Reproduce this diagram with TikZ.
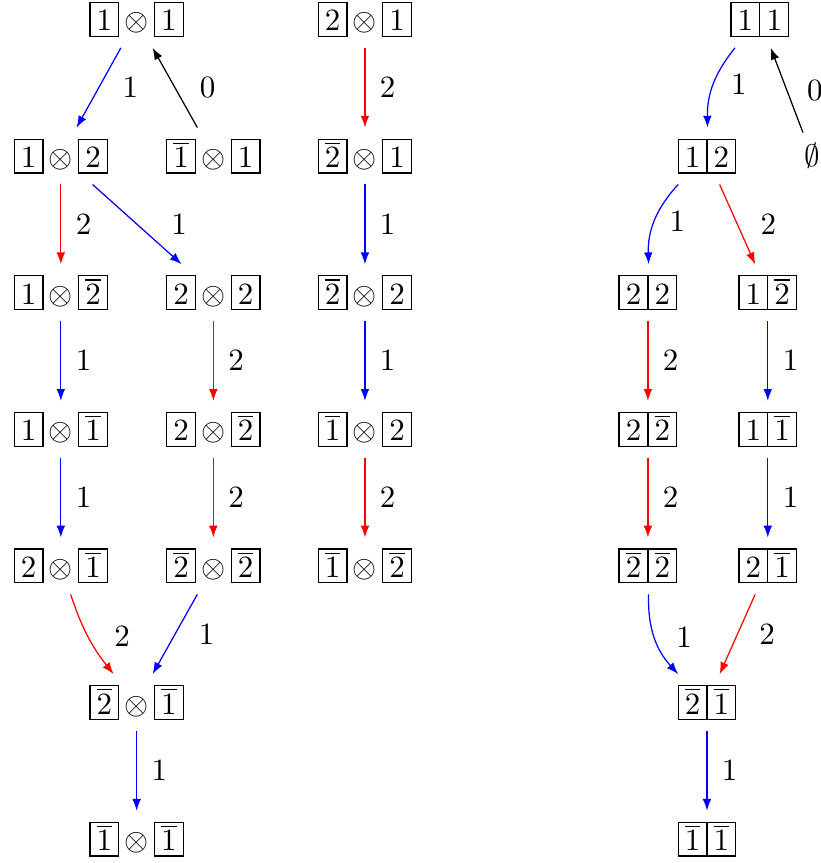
\documentclass[tikz,border=0pt]{standalone}
\usepackage{amsmath,amssymb}
\usetikzlibrary{arrows.meta, positioning}

% one framed cell of a tableau
\newcommand{\cb}[1]{{\setlength{\fboxsep}{0pt}\fbox{\makebox[8.9pt]{\rule[-1.5pt]{0pt}{10.5pt}$#1$}}}}
% tensor product of two cells, and a one-row tableau of two cells
\newcommand{\tns}[2]{$\medmuskip=3mu\cb{#1}\otimes\cb{#2}$}
\newcommand{\row}[2]{\cb{#1}\kern-0.4pt\cb{#2}}
\newcommand{\ob}[1]{\overline{#1}}

\begin{document}
\begin{tikzpicture}[>={Latex[length=3.8pt, width=2.8pt]},
  lab/.style={midway, right=#1, text=black},
  lab/.default=1.3pt]

\useasboundingbox (0,0) rectangle (9.31,9.79);

% Tensor square, left column block
\node (t11)   at (1.55,9.57) {\tns{1}{1}};
\node (t12)   at (0.69,8.02) {\tns{1}{2}};
\node (tB11)  at (2.42,8.02) {\tns{\ob{1}}{1}};
\node (t1B2)  at (0.69,6.47) {\tns{1}{\ob{2}}};
\node (t22)   at (2.42,6.47) {\tns{2}{2}};
\node (t1B1)  at (0.69,4.92) {\tns{1}{\ob{1}}};
\node (t2B2)  at (2.42,4.92) {\tns{2}{\ob{2}}};
\node (t2B1)  at (0.69,3.37) {\tns{2}{\ob{1}}};
\node (tB2B2) at (2.42,3.37) {\tns{\ob{2}}{\ob{2}}};
\node (tB2B1) at (1.55,1.82) {\tns{\ob{2}}{\ob{1}}};
\node (tB1B1) at (1.55,0.27) {\tns{\ob{1}}{\ob{1}}};

% Tensor square, second string
\node (t21)   at (4.14,9.57) {\tns{2}{1}};
\node (tB21)  at (4.14,8.02) {\tns{\ob{2}}{1}};
\node (tB22)  at (4.14,6.47) {\tns{\ob{2}}{2}};
\node (tB12)  at (4.14,4.92) {\tns{\ob{1}}{2}};
\node (tB1B2) at (4.14,3.37) {\tns{\ob{1}}{\ob{2}}};

% Tableaux
\node (y11)   at (8.62,9.57) {\row{1}{1}};
\node (y12)   at (8.02,8.02) {\row{1}{2}};
\node (emp)   at (9.21,8.02) {$\emptyset$};
\node (y22)   at (7.35,6.47) {\row{2}{2}};
\node (y1B2)  at (8.71,6.47) {\row{1}{\ob{2}}};
\node (y2B2)  at (7.35,4.92) {\row{2}{\ob{2}}};
\node (y1B1)  at (8.71,4.92) {\row{1}{\ob{1}}};
\node (yB2B2) at (7.35,3.37) {\row{\ob{2}}{\ob{2}}};
\node (y2B1)  at (8.71,3.37) {\row{2}{\ob{1}}};
\node (yB2B1) at (8.02,1.82) {\row{\ob{2}}{\ob{1}}};
\node (yB1B1) at (8.02,0.27) {\row{\ob{1}}{\ob{1}}};

% Arrows, left block
\draw[->, blue] (t11) -- (t12) node[lab=4.2pt] {$1$};
\draw[->] (tB11) -- (t11) node[lab=4.5pt] {$0$};
\draw[->, red] (t12) -- (t1B2) node[lab] {$2$};
\draw[->, blue] (t12) -- (t22) node[lab=7.5pt] {$1$};
\draw[->, blue] (t1B2) -- (t1B1) node[lab] {$1$};
\draw[->, red] (t22) -- (t2B2) node[lab] {$2$};
\draw[->, blue] (t1B1) -- (t2B1) node[lab] {$1$};
\draw[->, red] (t2B2) -- (tB2B2) node[lab] {$2$};
\draw[->, red] (t2B1) to[bend right=10] node[lab=5pt] {$2$} (tB2B1);
\draw[->, blue] (tB2B2) -- (tB2B1) node[lab=4.2pt] {$1$};
\draw[->, blue] (tB2B1) -- (tB1B1) node[lab] {$1$};

% Arrows, second string
\draw[->, red] (t21) -- (tB21) node[lab] {$2$};
\draw[->, blue] (tB21) -- (tB22) node[lab] {$1$};
\draw[->, blue] (tB22) -- (tB12) node[lab] {$1$};
\draw[->, red] (tB12) -- (tB1B2) node[lab] {$2$};

% Arrows, tableaux
\draw[->, blue] (y11) to[bend right=20] node[lab=2.2pt] {$1$} (y12);
\draw[->] (emp) -- (y11) node[lab=3pt] {$0$};
\draw[->, blue] (y12) to[bend right=22] node[lab] {$1$} (y22);
\draw[->, red] (y12) -- (y1B2) node[lab=4pt] {$2$};
\draw[->, red] (y22) -- (y2B2) node[lab] {$2$};
\draw[->, blue] (y1B2) -- (y1B1) node[lab] {$1$};
\draw[->, red] (y2B2) -- (yB2B2) node[lab] {$2$};
\draw[->, blue] (y1B1) -- (y2B1) node[lab] {$1$};
\draw[->, blue] (yB2B2) to[bend right=22] node[lab=3.5pt] {$1$} (yB2B1);
\draw[->, red] (y2B1) -- (yB2B1) node[lab=3.6pt] {$2$};
\draw[->, blue] (yB2B1) -- (yB1B1) node[lab] {$1$};

\end{tikzpicture}
\end{document}
